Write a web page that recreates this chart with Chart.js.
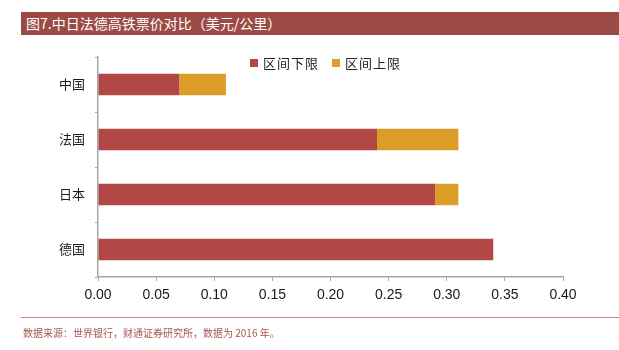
<!DOCTYPE html>
<html>
<head>
<meta charset="utf-8">
<script src="https://cdn.jsdelivr.net/npm/chart.js@4.4.0/dist/chart.umd.min.js"></script>
<style>
  body { margin: 0; background: #fff; font-family: "Noto Sans CJK SC", sans-serif; }
  #wrap { position: relative; width: 619px; height: 350px; overflow: hidden; }
  #title { position: absolute; left: 21px; top: 12px; width: 598px; height: 23px; background: #9c4a45;
           color: #fff; font-size: 14px; line-height: 23px; padding-left: 5px; box-sizing: border-box; }
  #legend { position: absolute; top: 53px; left: 250px; font-size: 13px; color: #222; display: flex; gap: 13px; letter-spacing: 1px; }
  #legend span { display: flex; align-items: center; }
  #legend i { display: inline-block; width: 8px; height: 8px; margin-right: 5px; }
  #rule { position: absolute; left: 21px; top: 317px; width: 598px; height: 1px; background: #c8847d; }
  #source { position: absolute; left: 23px; top: 325px; font-size: 10px; color: #a4564f; }
  canvas { position: absolute; left: 0; top: 0; }
</style>
</head>
<body>
<div id="wrap">
  <canvas id="fareChart" width="619" height="350"></canvas>
  <div id="title">图7.中日法德高铁票价对比（美元/公里）</div>
  <div id="legend"></div>
  <div id="rule"></div>
  <div id="source">数据来源：世界银行，财通证券研究所，数据为 2016 年。</div>
</div>
<script>
const countries = ['中国', '法国', '日本', '德国'];
const lowerBound = [0.07, 0.24, 0.29, 0.34];
const upperBound = [0.11, 0.31, 0.31, 0.34];
const xTicks = [0, 0.05, 0.10, 0.15, 0.20, 0.25, 0.30, 0.35, 0.40];

const seriesNames = ['区间下限', '区间上限'];
const seriesColors = ['#b24846', '#db9d26'];

document.getElementById('legend').innerHTML = seriesNames
  .map((n, i) => `<span><i style="background:${seriesColors[i]}"></i>${n}</span>`).join('');

const ctx = document.getElementById('fareChart').getContext('2d');
new Chart(ctx, {
  type: 'bar',
  data: {
    labels: countries,
    datasets: [
      {
        label: seriesNames[0],
        data: lowerBound,
        backgroundColor: seriesColors[0],
        barPercentage: 0.39,
        categoryPercentage: 1
      },
      {
        // upper segment runs from the lower bound to the upper bound
        label: seriesNames[1],
        data: lowerBound.map((lo, i) => [lo, upperBound[i]]),
        backgroundColor: seriesColors[1],
        barPercentage: 0.39,
        categoryPercentage: 1
      }
    ]
  },
  options: {
    indexAxis: 'y',
    responsive: false,
    animation: false,
    layout: { padding: { top: 57, right: 56, left: 0, bottom: 0 } },
    plugins: { legend: { display: false }, tooltip: { enabled: false } },
    scales: {
      x: {
        min: 0,
        max: 0.4,
        afterBuildTicks: axis => { axis.ticks = xTicks.map(v => ({ value: v })); },
        afterFit: axis => { axis.height = 73; },
        border: { color: '#a6a6a6', width: 1.5 },
        grid: { drawOnChartArea: false, drawTicks: true, tickLength: 4, color: '#a6a6a6' },
        ticks: {
          color: '#1a1a1a',
          padding: 6,
          font: { family: 'Liberation Sans', size: 14 },
          callback: v => v.toFixed(2)
        }
      },
      y: {
        stacked: true,
        afterFit: axis => { axis.width = 98; },
        border: { color: '#a6a6a6', width: 1.5 },
        grid: { offset: true, drawOnChartArea: false, drawTicks: true, tickLength: 3, color: '#a6a6a6' },
        ticks: {
          color: '#1a1a1a',
          padding: 10,
          font: { family: 'Noto Sans CJK SC', size: 13 }
        }
      }
    }
  }
});
</script>
</body>
</html>
